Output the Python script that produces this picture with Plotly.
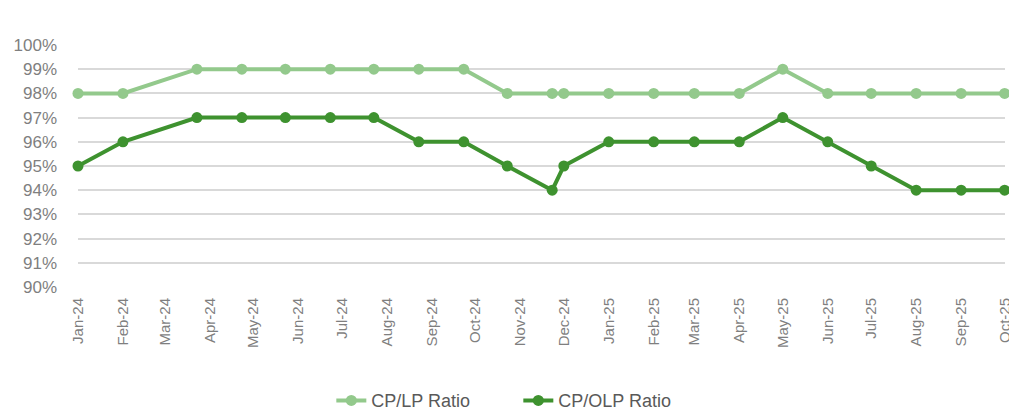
import plotly.graph_objects as go

dates = ["2024-01-01", "2024-02-01", "2024-03-23", "2024-04-23", "2024-05-23",
         "2024-06-23", "2024-07-23", "2024-08-23", "2024-09-23", "2024-10-23",
         "2024-11-23", "2024-12-01", "2025-01-01", "2025-02-01", "2025-03-01",
         "2025-04-01", "2025-05-01", "2025-06-01", "2025-07-01", "2025-08-01",
         "2025-09-01", "2025-10-01"]
cp_lp = [98, 98, 99, 99, 99, 99, 99, 99, 99, 98, 98, 98, 98, 98, 98, 98, 99, 98, 98, 98, 98, 98]
cp_olp = [95, 96, 97, 97, 97, 97, 97, 96, 96, 95, 94, 95, 96, 96, 96, 96, 97, 96, 95, 94, 94, 94]

light = "#93c98c"
dark = "#3e922f"

fig = go.Figure()
fig.add_trace(go.Scatter(x=dates, y=cp_lp, name="CP/LP Ratio", mode="lines+markers",
                         line=dict(color=light, width=4), marker=dict(size=11, color=light),
                         cliponaxis=False))
fig.add_trace(go.Scatter(x=dates, y=cp_olp, name="CP/OLP Ratio", mode="lines+markers",
                         line=dict(color=dark, width=4), marker=dict(size=11, color=dark),
                         cliponaxis=False))

fig.update_layout(
    width=1009, height=413,
    margin=dict(l=78, r=4, t=45, b=126, autoexpand=False),
    plot_bgcolor="white", paper_bgcolor="white",
    font=dict(family="Liberation Sans, Arial, sans-serif", color="#7f7f7f", size=14),
    showlegend=True,
    legend=dict(orientation="h", x=0.475, xanchor="center", y=-0.47, yanchor="middle",
                font=dict(size=18, color="#595959"), entrywidth=142, entrywidthmode="pixels",
                tracegroupgap=0),
)
fig.update_xaxes(type="date", range=["2024-01-01", "2025-10-01 06:00"], dtick="M1",
                 tick0="2024-01-01", tickformat="%b-%y", tickangle=-90,
                 showgrid=False, zeroline=False, showline=False, ticks="",
                 automargin=False, ticklabelstandoff=7, ticklabeloverflow="allow",
                 tickfont=dict(size=15, color="#7f7f7f"))
fig.update_yaxes(range=[90, 100], dtick=1, ticksuffix="%", showgrid=True,
                 gridcolor="#d9d9d9", gridwidth=1.5, zeroline=False, showline=False,
                 automargin=False,
                 tickfont=dict(size=17, color="#7f7f7f"), ticklabelstandoff=20)

fig.write_html("out.html", config={"displayModeBar": False},
               post_script="document.body.style.margin='0';document.body.style.overflow='hidden';")
